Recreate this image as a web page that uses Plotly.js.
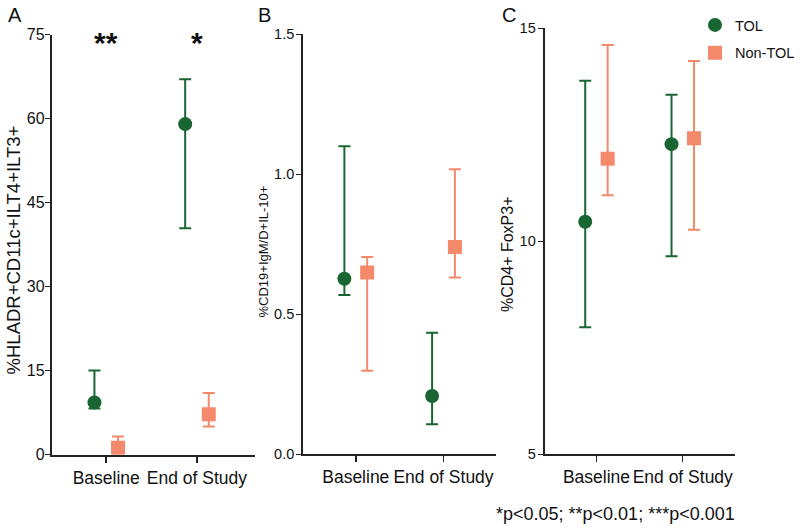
<!DOCTYPE html>
<html>
<head>
<meta charset="utf-8">
<script src="https://cdn.plot.ly/plotly-3.0.1.min.js"></script>
<style>html,body{margin:0;padding:0;background:#fff}#chart{width:800px;height:530px}</style>
</head>
<body>
<div id="chart"></div>
<script>
// ---- data ----
const categories = ['Baseline', 'End of Study'];
const seriesNames = ['TOL', 'Non-TOL'];

// Panel A: %HLADR+CD11c+ILT4+ILT3+
const tolMeanA = [9.3, 59.0];
const tolUpA   = [15.0, 67.0];
const tolLoA   = [8.2, 40.4];
const nonMeanA = [1.2, 7.2];
const nonUpA   = [3.2, 11.0];
const nonLoA   = [0.0, 5.0];

// Panel B: %CD19+IgM/D+IL-10+
const tolMeanB = [0.627, 0.208];
const tolUpB   = [1.10, 0.434];
const tolLoB   = [0.569, 0.107];
const nonMeanB = [0.649, 0.740];
const nonUpB   = [0.705, 1.018];
const nonLoB   = [0.298, 0.631];

// Panel C: %CD4+ FoxP3+
const tolMeanC = [10.46, 12.28];
const tolUpC   = [13.77, 13.44];
const tolLoC   = [7.98, 9.65];
const nonMeanC = [11.94, 12.42];
const nonUpC   = [14.61, 14.23];
const nonLoC   = [11.08, 10.27];

const yTicksA = [0, 15, 30, 45, 60, 75];
const yTicksB = [0, 0.5, 1.0, 1.5];
const yTicksC = [5, 10, 15];
const yTitles = ['%HLADR+CD11c+ILT4+ILT3+', '%CD19+IgM/D+IL-10+', '%CD4+ FoxP3+'];
const panelLabels = ['A', 'B', 'C'];
const sigA = ['**', '*'];
const footnote = '*p<0.05; **p<0.01; ***p<0.001';

// ---- styles ----
const GREEN = '#1a6633';
const SALMON = '#f4896c';
const FONT = 'Liberation Sans, Arial, Helvetica, sans-serif';
const OFF = 0.13;
const catIdx = categories.map((c, i) => i);

function trace(name, mean, up, lo, ax, color, symbol, size, showlegend, dx) {
  return {
    type: 'scatter', mode: 'markers', name: name,
    x: catIdx.map(i => i + dx), y: mean,
    xaxis: 'x' + ax, yaxis: 'y' + ax,
    legendgroup: name, showlegend: showlegend,
    marker: {color: color, symbol: symbol, size: size, line: {width: 0}},
    error_y: {type: 'data', symmetric: false,
      array: up.map((u, i) => u - mean[i]),
      arrayminus: mean.map((m, i) => m - lo[i]),
      color: color, thickness: 2, width: 6},
    hoverinfo: 'x+y+name'
  };
}

const data = [
  trace(seriesNames[0], tolMeanA, tolUpA, tolLoA, '', GREEN, 'circle', 14, false, -OFF),
  trace(seriesNames[1], nonMeanA, nonUpA, nonLoA, '', SALMON, 'square', 14, false, OFF),
  trace(seriesNames[0], tolMeanB, tolUpB, tolLoB, '2', GREEN, 'circle', 14, false, -OFF),
  trace(seriesNames[1], nonMeanB, nonUpB, nonLoB, '2', SALMON, 'square', 14, false, OFF),
  trace(seriesNames[0], tolMeanC, tolUpC, tolLoC, '3', GREEN, 'circle', 14, true, -OFF),
  trace(seriesNames[1], nonMeanC, nonUpC, nonLoC, '3', SALMON, 'square', 14, true, OFF)
];

function xax(domain, range, anchor) {
  return {domain: domain, range: range, anchor: anchor,
    tickmode: 'array', tickvals: catIdx, ticktext: categories,
    ticks: 'outside', ticklen: 6, tickwidth: 1.5, tickcolor: '#222',
    showline: true, linewidth: 2, linecolor: '#222',
    showgrid: false, zeroline: false,
    tickfont: {family: FONT, size: 17.5, color: '#111'}};
}
function yax(domain, range, anchor, ticks, fmt, tsize, standoff) {
  return {domain: domain, range: range, anchor: anchor,
    tickmode: 'array', tickvals: ticks, tickformat: fmt,
    ticks: 'outside', ticklen: 5, tickwidth: 1.5, tickcolor: '#222',
    ticklabelstandoff: standoff,
    showline: true, linewidth: 2, linecolor: '#222',
    showgrid: false, zeroline: false,
    tickfont: {family: FONT, size: tsize, color: '#111'}};
}

function txt(text, x, y, size, extra) {
  return Object.assign({text: text, xref: 'paper', yref: 'paper', x: x/800, y: 1 - y/530,
    xanchor: 'center', yanchor: 'middle', showarrow: false,
    font: {family: FONT, size: size, color: '#111'}}, extra || {});
}

const layout = {
  width: 800, height: 530,
  margin: {l: 0, r: 0, t: 0, b: 0},
  paper_bgcolor: '#fff', plot_bgcolor: '#fff',
  font: {family: FONT, color: '#111'},
  xaxis:  xax([52/800, 256/800], [-0.6, 1.64], 'y'),
  xaxis2: xax([304.3/800, 498/800], [-0.6, 1.6], 'y2'),
  xaxis3: xax([546.7/800, 737.3/800], [-0.6, 1.6], 'y3'),
  yaxis:  yax([1-454.5/530, 1-34.5/530], [0, 75], 'x', yTicksA, '', 16, -3),
  yaxis2: yax([1-454.3/530, 1-34.3/530], [0, 1.5], 'x2', yTicksB, '.1f', 14.5, -1),
  yaxis3: yax([1-454.3/530, 1-28.3/530], [5, 15], 'x3', yTicksC, '', 14.5, -1),
  showlegend: true,
  legend: {x: 698/800, y: 1 - 9/530, xanchor: 'left', yanchor: 'top',
    traceorder: 'grouped', tracegroupgap: 6,
    font: {family: FONT, size: 14.5, color: '#111'}, bgcolor: 'rgba(0,0,0,0)'},
  annotations: [
    txt(panelLabels[0], 6, 15, 20, {xanchor: 'left'}),
    txt(panelLabels[1], 257, 15, 20, {xanchor: 'left'}),
    txt(panelLabels[2], 502, 15, 20, {xanchor: 'left'}),
    txt(yTitles[0], 13.5, 250, 18.5, {textangle: -90}),
    txt(yTitles[1], 264, 251.5, 13, {textangle: -90}),
    txt(yTitles[2], 509, 254, 16, {textangle: -90}),
    {text: '<b>' + sigA[0] + '</b>', xref: 'x', yref: 'paper', x: catIdx[0], y: 1-43/530, xanchor: 'center', yanchor: 'middle', showarrow: false, font: {family: FONT, size: 30, color: '#111'}},
    {text: '<b>' + sigA[1] + '</b>', xref: 'x', yref: 'paper', x: catIdx[1], y: 1-43/530, xanchor: 'center', yanchor: 'middle', showarrow: false, font: {family: FONT, size: 30, color: '#111'}},
    txt(footnote, 496, 514, 18, {xanchor: 'left'})
  ]
};

Plotly.newPlot('chart', data, layout, {displayModeBar: false, staticPlot: true});
</script>
</body>
</html>
